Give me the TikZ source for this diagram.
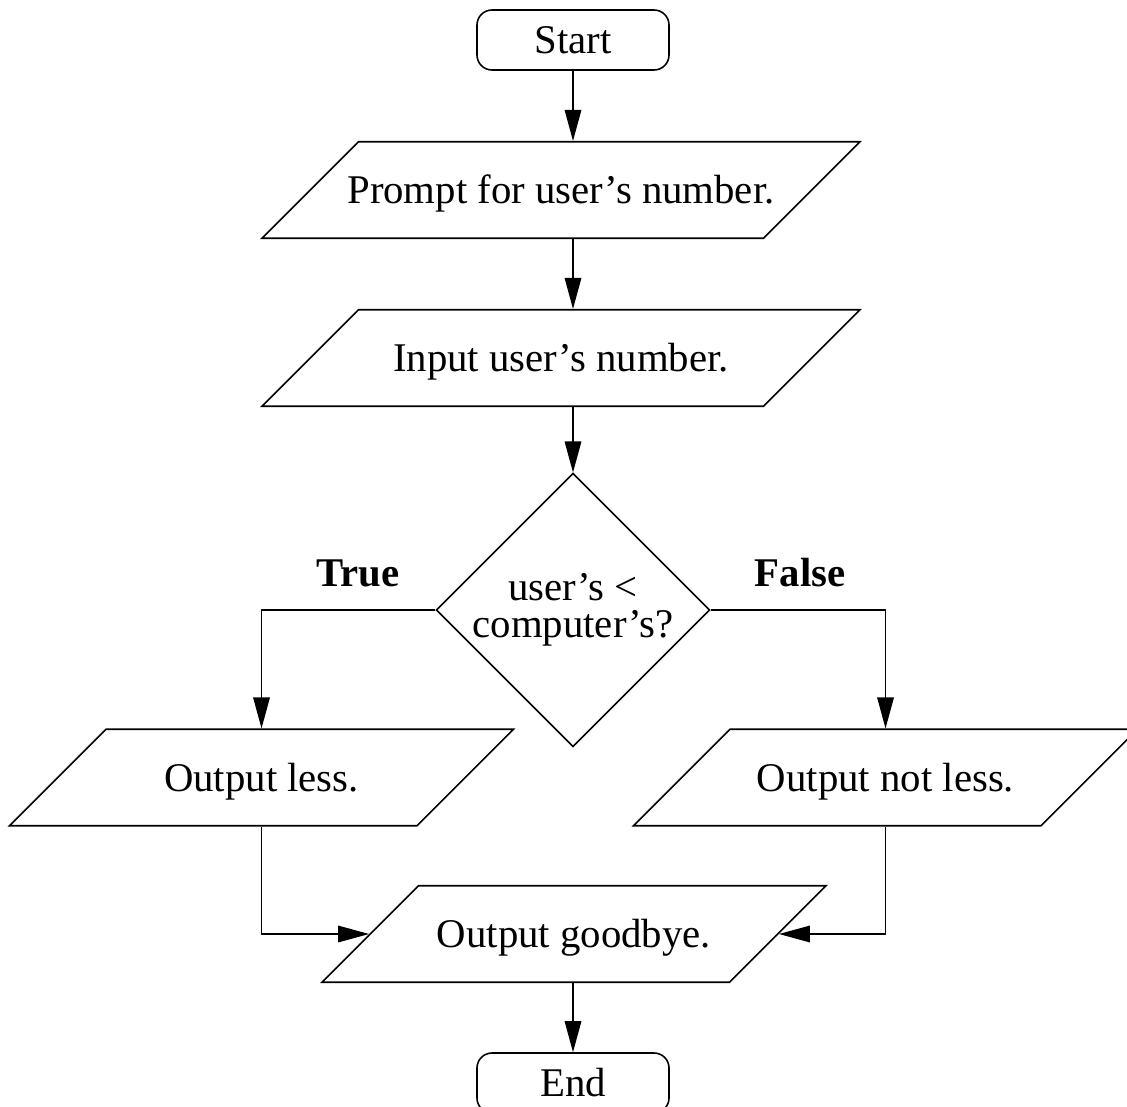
\documentclass[tikz,border=0pt]{standalone}
\usepackage{fontspec}
\setmainfont{Liberation Serif}
\usetikzlibrary{shapes.geometric, arrows.meta, positioning}

\begin{document}
\begin{tikzpicture}[font=\fontsize{23.2}{26}\selectfont, line width=0.9pt,
    terminal/.style={draw, rectangle, rounded corners=0.3cm,
      minimum width=3.84cm, minimum height=1.2cm, inner sep=0pt},
    io/.style={draw, trapezium, trapezium left angle=45,
      trapezium right angle=135, trapezium stretches body,
      minimum width=#1, text height=1.235cm, text depth=0.695cm,
      inner ysep=0pt, inner xsep=-1cm},
    io/.default=10.08cm,
    decision/.style={draw, diamond, minimum width=5.2cm,
      minimum height=5.22cm, inner sep=0pt, align=center,
      font=\fontsize{23.2}{21}\selectfont},
    branch/.style={font=\bfseries\fontsize{23.2}{26}\selectfont},
    arr/.style={-{Triangle[length=0.62cm, width=0.33cm]}}]

  \useasboundingbox (0,0) rectangle (22.54,-22.14);

  % Main column
  \node[terminal] (start) at (11.46,-0.80) {Start};
  \node[io=11.96cm] (prompt) at (11.22,-3.80) {Prompt for user's number.};
  \node[io=11.96cm] (input) at (11.22,-7.16) {Input user's number.};
  \node[decision] (decide) at (11.46,-12.20) {user's <\\ computer's?};

  % Branch labels
  \node[branch] (truelbl) at (7.16,-11.46) {True};
  \node[branch] (falselbl) at (16.0,-11.46) {False};

  % Branches
  \node[io] (less) at (5.23,-15.55) {Output less.};
  \node[io] (notless) at (17.71,-15.55) {Output not less.};

  % Bottom
  \node[io] (bye) at (11.48,-18.68) {Output goodbye.};
  \node[terminal] (end) at (11.46,-21.66) {End};

  \draw[arr] (start.south) -- (start.south |- prompt.north);
  \draw[arr] (prompt.south -| start) -- (input.north -| start);
  \draw[arr] (input.south -| decide) -- (decide.north);
  \draw[arr] (decide.west) -| (less.north);
  \draw[arr] (decide.east) -| (notless.north);
  \draw[arr] (less.south) |- (bye.west);
  \draw[arr] (notless.south) |- (bye.east);
  \draw[arr] (bye.south -| end) -- (end.north);

\end{tikzpicture}
\end{document}
